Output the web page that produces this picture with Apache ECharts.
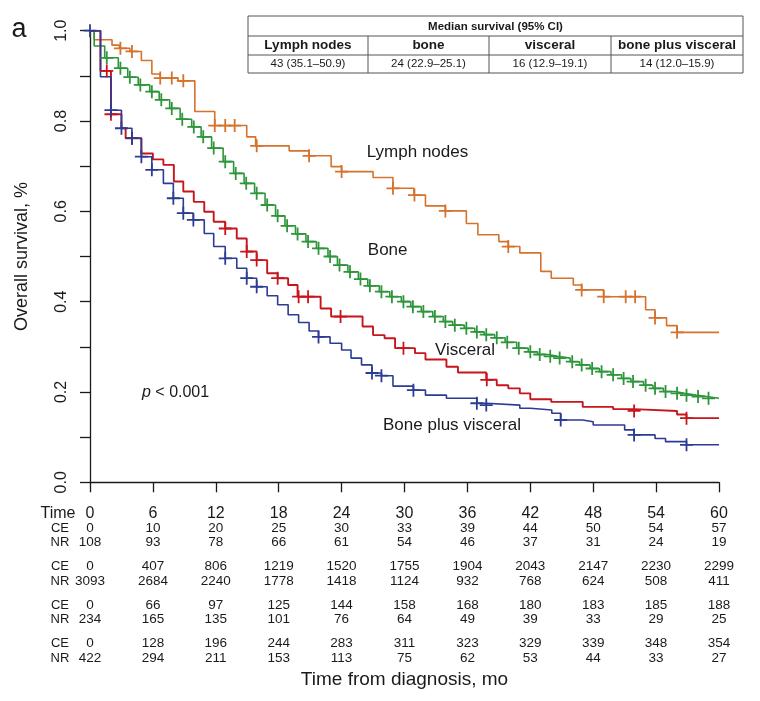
<!DOCTYPE html>
<html><head><meta charset="utf-8">
<script src="https://cdn.jsdelivr.net/npm/echarts@6/dist/echarts.min.js"></script>
<style>html,body{margin:0;padding:0;background:#fff}#c{width:760px;height:701px}</style>
</head><body><div id="c"></div>
<script>
const FONT = "'Liberation Sans', Arial, Helvetica, sans-serif";

// ---- Kaplan-Meier step data (time in months, survival fraction) ----
const lnTime = [0, 0.4, 2.1, 2.8, 3.8, 4.9, 5.9, 6.7, 8.4, 10.0, 11.9, 14.95, 15.8, 19.0, 20.9, 23.0, 24.0, 27.0, 28.9, 30.9, 32.0, 33.9, 35.9, 37.0, 39.0, 39.9, 41.0, 43.0, 44.0, 46.1, 46.9, 49.0, 53.0, 53.9, 55.0, 56.0, 60];
const lnSurv = [1.0, 0.980, 0.968, 0.961, 0.954, 0.934, 0.904, 0.895, 0.889, 0.821, 0.790, 0.765, 0.745, 0.734, 0.723, 0.699, 0.688, 0.675, 0.651, 0.636, 0.612, 0.601, 0.573, 0.548, 0.533, 0.522, 0.508, 0.467, 0.452, 0.437, 0.426, 0.411, 0.382, 0.364, 0.347, 0.332, 0.332];
const lnCensor = [2.9, 4.0, 6.7, 7.8, 8.9, 11.9, 12.9, 13.8, 15.9, 20.9, 24.0, 28.9, 30.95, 33.9, 39.9, 46.9, 49.0, 51.1, 52.0, 53.9, 56.0];

const boneTime = [0, 0.4, 1.4, 2.7, 3.6, 4.6, 5.7, 6.6, 7.6, 8.6, 9.7, 10.6, 11.6, 12.7, 13.7, 14.7, 15.7, 16.7, 17.7, 18.6, 19.6, 20.6, 21.6, 22.7, 23.6, 24.6, 25.6, 26.5, 27.6, 28.6, 29.7, 30.6, 31.6, 32.7, 33.7, 34.6, 35.7, 36.7, 37.6, 38.6, 39.6, 40.7, 41.8, 42.7, 43.7, 44.6, 45.8, 46.7, 47.7, 48.6, 49.7, 50.7, 51.6, 52.8, 53.7, 54.7, 55.8, 56.7, 57.8, 58.8, 60];
const boneSurv = [1.0, 0.966, 0.940, 0.917, 0.897, 0.880, 0.865, 0.847, 0.828, 0.804, 0.787, 0.765, 0.740, 0.710, 0.684, 0.662, 0.640, 0.614, 0.590, 0.568, 0.550, 0.533, 0.518, 0.500, 0.481, 0.466, 0.450, 0.435, 0.422, 0.411, 0.400, 0.389, 0.378, 0.367, 0.356, 0.348, 0.341, 0.333, 0.327, 0.320, 0.310, 0.297, 0.289, 0.283, 0.279, 0.275, 0.267, 0.260, 0.252, 0.245, 0.238, 0.230, 0.223, 0.215, 0.208, 0.201, 0.197, 0.193, 0.190, 0.186, 0.186];
const boneCensor = [1.6, 2.9, 3.8, 4.8, 5.9, 6.8, 7.8, 8.8, 9.9, 10.8, 11.8, 12.9, 13.9, 14.9, 15.9, 16.9, 17.9, 18.8, 19.8, 20.8, 21.8, 22.9, 23.8, 24.8, 25.8, 26.7, 27.8, 28.8, 29.9, 30.8, 31.8, 32.9, 33.9, 34.8, 35.9, 36.9, 37.8, 38.8, 39.8, 40.9, 42.0, 42.9, 43.9, 44.8, 46.0, 46.9, 47.9, 48.8, 49.9, 50.9, 51.8, 53.0, 53.9, 54.9, 56.0, 56.9, 58.0, 59.0];

const visTime = [0, 1.0, 2.0, 3.0, 3.4, 4.9, 6.0, 7.0, 8.0, 8.9, 9.9, 10.9, 11.8, 12.9, 14.0, 14.95, 15.9, 16.9, 17.9, 18.9, 19.8, 22.0, 23.0, 26.0, 27.0, 28.1, 29.1, 31.0, 32.0, 34.0, 35.1, 37.8, 38.8, 39.9, 41.0, 42.0, 44.0, 47.0, 49.9, 51.9, 56.0, 56.9, 60];
const visSurv = [1.0, 0.911, 0.815, 0.784, 0.762, 0.728, 0.715, 0.703, 0.666, 0.644, 0.621, 0.599, 0.577, 0.562, 0.540, 0.511, 0.492, 0.463, 0.452, 0.437, 0.411, 0.385, 0.367, 0.345, 0.326, 0.319, 0.297, 0.286, 0.272, 0.256, 0.243, 0.227, 0.215, 0.208, 0.197, 0.184, 0.178, 0.167, 0.162, 0.158, 0.150, 0.142, 0.142];
const visCensor = [1.6, 2.0, 4.0, 12.9, 14.95, 15.9, 17.9, 19.9, 20.8, 23.9, 29.9, 37.85, 51.9, 56.9];

const bvTime = [0, 1.0, 2.0, 3.0, 4.0, 4.9, 5.9, 7.0, 7.95, 8.9, 9.86, 10.9, 11.8, 12.9, 14.0, 14.95, 15.9, 16.9, 17.9, 18.9, 19.9, 20.9, 21.8, 22.9, 24.0, 24.9, 25.9, 26.9, 27.8, 28.9, 30.85, 32.0, 34.0, 36.9, 37.8, 41.0, 42.0, 44.05, 44.9, 47.0, 48.0, 51.0, 51.9, 53.9, 54.9, 56.9, 60];
const bvSurv = [1.0, 0.898, 0.824, 0.784, 0.762, 0.721, 0.692, 0.662, 0.629, 0.596, 0.581, 0.551, 0.522, 0.496, 0.474, 0.452, 0.433, 0.413, 0.393, 0.371, 0.354, 0.335, 0.322, 0.308, 0.293, 0.275, 0.260, 0.242, 0.236, 0.213, 0.204, 0.193, 0.186, 0.175, 0.171, 0.164, 0.160, 0.153, 0.138, 0.134, 0.127, 0.116, 0.105, 0.097, 0.090, 0.083, 0.083];
const bvCensor = [0, 2.0, 3.0, 4.0, 4.9, 5.9, 7.95, 8.9, 9.86, 12.9, 14.95, 15.9, 21.8, 26.9, 27.8, 30.85, 36.9, 37.8, 44.9, 51.9, 56.9];

// ---- risk table ----
const timeTicks = [0, 6, 12, 18, 24, 30, 36, 42, 48, 54, 60];
const lnCE = [0, 10, 20, 25, 30, 33, 39, 44, 50, 54, 57];
const lnNR = [108, 93, 78, 66, 61, 54, 46, 37, 31, 24, 19];
const boneCE = [0, 407, 806, 1219, 1520, 1755, 1904, 2043, 2147, 2230, 2299];
const boneNR = [3093, 2684, 2240, 1778, 1418, 1124, 932, 768, 624, 508, 411];
const visCE = [0, 66, 97, 125, 144, 158, 168, 180, 183, 185, 188];
const visNR = [234, 165, 135, 101, 76, 64, 49, 39, 33, 29, 25];
const bvCE = [0, 128, 196, 244, 283, 311, 323, 329, 339, 348, 354];
const bvNR = [422, 294, 211, 153, 113, 75, 62, 53, 44, 33, 27];

// ---- median survival table ----
const medianTitle = 'Median survival (95% CI)';
const medianHeaders = ['Lymph nodes', 'bone', 'visceral', 'bone plus visceral'];
const medianValues = ['43 (35.1\u201350.9)', '24 (22.9\u201325.1)', '16 (12.9\u201319.1)', '14 (12.0\u201315.9)'];

const yTicks = [0, 0.2, 0.4, 0.6, 0.8, 1.0];

// ---- layout ----
const W = 760, H = 701;
const GRID = {left: 90, right: 41, top: 30.7, bottom: 218.7};
const AXIS_Y = H - GRID.bottom;
const INK = '#1a1a1a';

const groups = [
  {name: 'Lymph nodes', color: '#d5722b', T: lnTime, S: lnSurv, C: lnCensor, w: 1.6, label: 'Lymph nodes', lt: 26.4, lv: 0.731},
  {name: 'Bone', color: '#2e963a', T: boneTime, S: boneSurv, C: boneCensor, w: 1.6, label: 'Bone', lt: 26.5, lv: 0.514},
  {name: 'Visceral', color: '#c8151d', T: visTime, S: visSurv, C: visCensor, w: 1.9, label: 'Visceral', lt: 32.9, lv: 0.293},
  {name: 'Bone plus visceral', color: '#2c3b94', T: bvTime, S: bvSurv, C: bvCensor, w: 1.6, label: 'Bone plus visceral', lt: 27.95, lv: 0.127}
];

const riskRows = [
  {label: 'CE', vals: lnCE, y: 528}, {label: 'NR', vals: lnNR, y: 542},
  {label: 'CE', vals: boneCE, y: 566}, {label: 'NR', vals: boneNR, y: 581},
  {label: 'CE', vals: visCE, y: 605}, {label: 'NR', vals: visNR, y: 619},
  {label: 'CE', vals: bvCE, y: 643}, {label: 'NR', vals: bvNR, y: 658}
];

function survAt(T, S, c) { let v = S[0]; for (let i = 0; i < T.length; i++) { if (T[i] <= c + 1e-9) v = S[i]; } return v; }
const PLUS = 'path://M5.6,0H7.4V13H5.6ZM0,5.6H13V7.4H0Z';

const series = [];
groups.forEach(g => {
  series.push({
    type: 'line', name: g.name, step: 'end', showSymbol: false, symbol: 'none', silent: true,
    data: g.T.map((t, i) => [t, g.S[i]]),
    lineStyle: {color: g.color, width: g.w}, itemStyle: {color: g.color}, z: 3, animation: false
  });
  series.push({
    type: 'scatter', name: g.name + ' censored', symbol: PLUS, symbolSize: 13, silent: true,
    data: g.C.map(c => [c, survAt(g.T, g.S, c)]),
    itemStyle: {color: g.color, opacity: 1}, z: 4, animation: false
  });
});

const xAxes = [{
  type: 'value', gridIndex: 0, position: 'bottom', min: 0, max: 60, interval: 6,
  axisLine: {show: true, onZero: false, lineStyle: {color: INK, width: 1.3}},
  axisTick: {show: true, length: 10, lineStyle: {color: INK, width: 1.3}},
  splitLine: {show: false},
  axisLabel: {show: true, margin: 514 - AXIS_Y, verticalAlign: 'middle', fontSize: 16, color: INK, fontFamily: FONT, hideOverlap: false,
    formatter: v => String(timeTicks[Math.round(v / 6)])}
}];
riskRows.forEach(r => {
  xAxes.push({
    type: 'value', gridIndex: 0, position: 'bottom', min: 0, max: 60, interval: 6,
    axisLine: {show: false, onZero: false}, axisTick: {show: false}, splitLine: {show: false},
    axisLabel: {show: true, margin: r.y - AXIS_Y, verticalAlign: 'middle', fontSize: 13.5, color: INK, fontFamily: FONT, hideOverlap: false,
      formatter: v => String(r.vals[Math.round(v / 6)])}
  });
});

const chart = echarts.init(document.getElementById('c'), null, {renderer: 'canvas', width: W, height: H});

const option = {
  backgroundColor: '#ffffff',
  animation: false,
  textStyle: {fontFamily: FONT},
  grid: {left: GRID.left, right: GRID.right, top: GRID.top, bottom: GRID.bottom, containLabel: false, outerBoundsMode: 'none'},
  xAxis: xAxes,
  yAxis: {
    type: 'value', min: 0, max: 1, interval: 0.1,
    axisLine: {show: true, lineStyle: {color: INK, width: 1.3}},
    axisTick: {show: true, length: 10, lineStyle: {color: INK, width: 1.3}},
    splitLine: {show: false},
    axisLabel: {show: true, rotate: 90, align: 'center', verticalAlign: 'middle', margin: 28, fontSize: 16, color: INK, fontFamily: FONT, hideOverlap: false,
      formatter: v => { const k = Math.round(v * 10); return (k % 2 === 0) ? yTicks[k / 2].toFixed(1) : ''; }}
  },
  series: series
};
chart.setOption(option);

// ---- annotations (positions derived through the chart's scales) ----
const graphics = [];
groups.forEach(g => {
  const p = chart.convertToPixel({gridIndex: 0}, [g.lt, g.lv]);
  graphics.push({type: 'text', x: p[0], y: p[1], style: {text: g.label, font: '17px ' + FONT, fill: INK, align: 'left', verticalAlign: 'middle'}});
});
const pp = chart.convertToPixel({gridIndex: 0}, [4.96, 0.198]);
graphics.push({type: 'text', x: pp[0], y: pp[1], style: {
  text: '{i|p} < 0.001', align: 'left', verticalAlign: 'middle', fill: INK, font: '16px ' + FONT,
  rich: {i: {fontStyle: 'italic', fontSize: 16, fontFamily: FONT, fill: INK}}}});

// panel letter
graphics.push({type: 'text', x: 19, y: 30, style: {text: 'a', font: '27px ' + FONT, fill: INK, align: 'center', verticalAlign: 'middle'}});
// y axis title
graphics.push({type: 'text', x: 22, y: (GRID.top + AXIS_Y) / 2, rotation: Math.PI / 2,
  style: {text: 'Overall survival, %', font: '18px ' + FONT, fill: INK, align: 'center', verticalAlign: 'middle'}});
// x axis title
graphics.push({type: 'text', x: GRID.left + (W - GRID.left - GRID.right) / 2, y: 680,
  style: {text: 'Time from diagnosis, mo', font: '19px ' + FONT, fill: INK, align: 'center', verticalAlign: 'middle'}});
// risk table row labels
graphics.push({type: 'text', x: 58, y: 514, style: {text: 'Time', font: '16px ' + FONT, fill: INK, align: 'center', verticalAlign: 'middle'}});
riskRows.forEach(r => {
  graphics.push({type: 'text', x: 60, y: r.y, style: {text: r.label, font: '13px ' + FONT, fill: INK, align: 'center', verticalAlign: 'middle'}});
});

// median survival table
const TB = {left: 248, right: 743, top: 16, r1: 36, r2: 55, bottom: 73, cols: [248, 368, 489, 611, 743]};
const border = '#555555';
graphics.push({type: 'rect', shape: {x: TB.left, y: TB.top, width: TB.right - TB.left, height: TB.bottom - TB.top},
  style: {fill: '#ffffff', stroke: border, lineWidth: 1}, z: 10});
[TB.r1, TB.r2].forEach(yy => graphics.push({type: 'line', shape: {x1: TB.left, y1: yy, x2: TB.right, y2: yy}, style: {stroke: border, lineWidth: 1}, z: 11}));
TB.cols.slice(1, 4).forEach(xx => graphics.push({type: 'line', shape: {x1: xx, y1: TB.r1, x2: xx, y2: TB.bottom}, style: {stroke: border, lineWidth: 1}, z: 11}));
graphics.push({type: 'text', x: (TB.left + TB.right) / 2, y: (TB.top + TB.r1) / 2 + 1, z: 12,
  style: {text: medianTitle, font: 'bold 11.5px ' + FONT, fill: INK, align: 'center', verticalAlign: 'middle'}});
medianHeaders.forEach((h, i) => {
  const cx = (TB.cols[i] + TB.cols[i + 1]) / 2;
  graphics.push({type: 'text', x: cx, y: (TB.r1 + TB.r2) / 2, z: 12, style: {text: h, font: 'bold 13.5px ' + FONT, fill: INK, align: 'center', verticalAlign: 'middle'}});
  graphics.push({type: 'text', x: cx, y: (TB.r2 + TB.bottom) / 2, z: 12, style: {text: medianValues[i], font: '11.5px ' + FONT, fill: INK, align: 'center', verticalAlign: 'middle'}});
});

chart.setOption({graphic: graphics});
</script>
</body></html>
